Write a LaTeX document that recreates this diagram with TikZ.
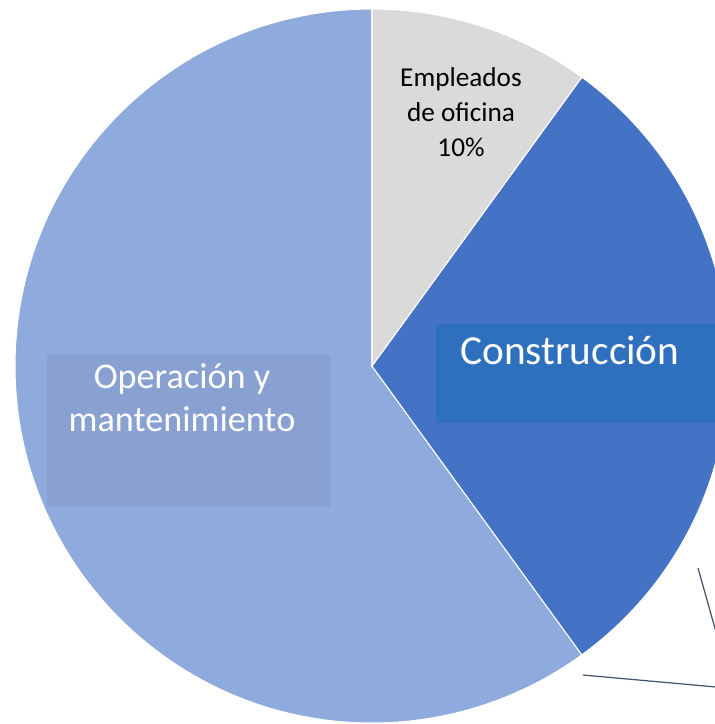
\documentclass[tikz,border=0pt]{standalone}
\usepackage{fontspec}
\setmainfont{Carlito}
\definecolor{opblue}{RGB}{143, 170, 220}
\definecolor{opshade}{RGB}{137, 161, 209}
\definecolor{conblue}{RGB}{68, 114, 196}
\definecolor{conshade}{RGB}{47, 112, 190}
\definecolor{empgray}{RGB}{218, 218, 218}
\definecolor{leadergray}{RGB}{68, 84, 106}
\usetikzlibrary{positioning, calc}

\begin{document}
\begin{tikzpicture}[x=0.02cm, y=0.02cm,
  slice/.style={draw=white, line width=0.6pt},
  lblbox/.style={inner sep=0pt, outer sep=0pt},
  lbltext/.style={align=center, inner sep=0pt, text=white},
  leader/.style={draw=leadergray, line width=0.7pt}
]
  \useasboundingbox (0,0) rectangle (715,-724);
  \clip (0,0) rectangle (715,-724);

  % Pie: centre and three slices
  \coordinate (c) at (372,-366);
  \filldraw[slice, fill=opblue] (c) -- ++(90:357) arc[start angle=90, end angle=306, radius=357] -- cycle;
  \filldraw[slice, fill=conblue] (c) -- ++(54:357) arc[start angle=54, end angle=-54, radius=357] -- cycle;
  \filldraw[slice, fill=empgray] (c) -- ++(90:357) arc[start angle=90, end angle=54, radius=357] -- cycle;

  % Label boxes
  \node[lblbox, fill=opshade, minimum width=5.66cm, minimum height=3.04cm] (opbox) at (188.5,-431) {};
  \node[lblbox, fill=conshade, minimum width=5.8cm, minimum height=1.98cm] (conbox) at (581,-373.5) {};

  % Labels
  \node[lbltext, font=\fontsize{20.6}{24.4}\selectfont] (optext) at (182,-398) {Operación y\\mantenimiento};
  \node[lbltext, font=\fontsize{23.5}{28}\selectfont] (context) at (570,-350) {Construcción};
  \node[lbltext, text=black, font=\fontsize{15.5}{20.1}\selectfont] (emptext) at (461,-112) {Empleados\\de oficina\\10\%};

  % Leader lines running off the right edge
  \coordinate (la1) at (698,-568);
  \coordinate (la2) at (716,-632);
  \coordinate (lb1) at (583,-675);
  \coordinate (lb2) at (716,-687);
  \draw[leader] (la1) -- (la2);
  \draw[leader] (lb1) -- (lb2);
\end{tikzpicture}
\end{document}
